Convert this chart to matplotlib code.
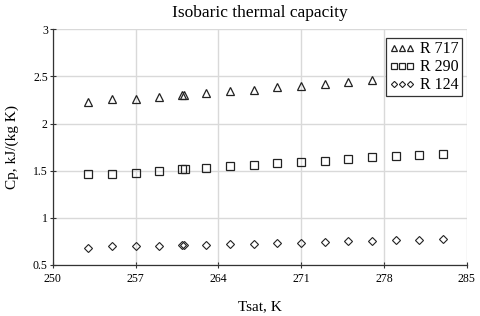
import matplotlib
matplotlib.use("Agg")
import matplotlib.pyplot as plt

plt.rcParams['font.family'] = ['Liberation Serif', 'DejaVu Serif']

t_717 = [253, 255, 257, 259, 260.9, 261.1, 263, 265, 267, 269, 271, 273, 275, 277]
cp_717 = [2.232, 2.258, 2.264, 2.285, 2.298, 2.302, 2.32, 2.343, 2.36, 2.385, 2.40, 2.42, 2.445, 2.466]

t_290 = [253, 255, 257, 259, 260.9, 261.2, 263, 265, 267, 269, 271, 273, 275, 277, 279, 281, 283]
cp_290 = [1.462, 1.469, 1.48, 1.494, 1.515, 1.52, 1.532, 1.55, 1.56, 1.579, 1.593, 1.603, 1.621, 1.642, 1.656, 1.664, 1.68]

t_124 = [253, 255, 257, 259, 260.9, 261.1, 263, 265, 267, 269, 271, 273, 275, 277, 279, 281, 283]
cp_124 = [0.684, 0.699, 0.699, 0.702, 0.709, 0.711, 0.709, 0.72, 0.72, 0.73, 0.73, 0.741, 0.752, 0.752, 0.766, 0.766, 0.773]

x_ticks = [250, 257, 264, 271, 278, 285]
y_ticks = [0.5, 1, 1.5, 2, 2.5, 3]
y_tick_labels = ['0.5', '1', '1.5', '2', '2.5', '3']

fig = plt.figure(figsize=(4.8, 3.16), dpi=100)
ax = fig.add_axes([0.1098, 0.1614, 0.8625, 0.7459])

ax.plot(t_717, cp_717, linestyle='none', marker='^', markersize=6, markerfacecolor='none',
        markeredgecolor='#222222', markeredgewidth=0.9, label='R 717')
ax.plot(t_290, cp_290, linestyle='none', marker='s', markersize=6, markerfacecolor='none',
        markeredgecolor='#222222', markeredgewidth=0.9, label='R 290')
ax.plot(t_124, cp_124, linestyle='none', marker='D', markersize=4.5, markerfacecolor='none',
        markeredgecolor='#222222', markeredgewidth=0.8, label='R 124')

ax.set_xlim(250, 285)
ax.set_ylim(0.5, 3)
ax.set_xticks(x_ticks)
ax.set_xticklabels([str(v) for v in x_ticks])
ax.set_yticks(y_ticks)
ax.set_yticklabels(y_tick_labels)

ax.grid(True, color='#d9d9d9', linewidth=1.0)
ax.set_axisbelow(True)
for s in ['top', 'right']:
    ax.spines[s].set_visible(False)
for s in ['left', 'bottom']:
    ax.spines[s].set_color('#333333')
    ax.spines[s].set_linewidth(0.9)

ax.tick_params(axis='both', direction='inout', length=5, width=0.8, color='#333333',
               labelsize=8.5, pad=1)
ax.tick_params(axis='x', pad=3)

ax.set_title('Isobaric thermal capacity', fontsize=12.5, pad=9)
ax.set_xlabel('Tsat, K', fontsize=11, labelpad=11)
ax.set_ylabel('Cp, kJ/(kg K)', fontsize=11, labelpad=10)

leg = ax.legend(loc='upper right', bbox_to_anchor=(0.988, 0.962), numpoints=3, markerscale=0.7,
                fontsize=11.5, frameon=True, fancybox=False, borderpad=0.2, handlelength=1.6,
                handletextpad=0.35, labelspacing=0.12, borderaxespad=0)
leg.get_frame().set_edgecolor('#333333')
leg.get_frame().set_linewidth(0.9)
leg.get_frame().set_alpha(1)

fig.savefig('out.png', dpi=100)
